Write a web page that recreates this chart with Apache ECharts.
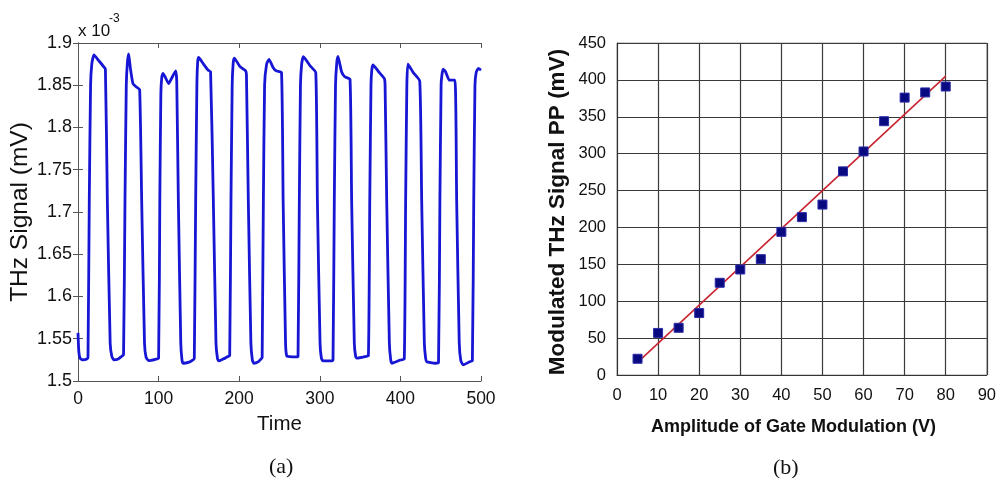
<!DOCTYPE html>
<html><head><meta charset="utf-8">
<script src="https://cdn.jsdelivr.net/npm/echarts@6/dist/echarts.min.js"></script>
<style>html,body{margin:0;padding:0;background:#fff}#c{width:999px;height:478px}</style>
</head><body><div id="c"></div>
<script>
// (a) THz signal trace: [time, signal in units of 1e-3 mV]
const timeSignal = [
 [0,1.557],[1,1.535],[2.5,1.527],[6,1.525],[11,1.526],[12.4,1.528],
 [14,1.714],[15.6,1.85],[17.2,1.876],[19.8,1.886],[25,1.880],[31,1.873],[34,1.869],
 [36.4,1.714],[39.9,1.545],[42,1.529],[44.5,1.525],[50,1.526],[54,1.529],[56.5,1.531],
 [58.3,1.714],[59.9,1.85],[61.3,1.877],[62.9,1.887],[65,1.870],[68.2,1.852],[72.4,1.848],[76.5,1.845],
 [79,1.714],[82.5,1.545],[84.5,1.528],[87.7,1.524],[96,1.5257],[100,1.527],
 [101.5,1.714],[102.8,1.84],[104,1.860],[105.5,1.864],[108,1.860],[112.5,1.852],[116,1.858],[121.2,1.867],[122.5,1.855],
 [124.5,1.714],[127.5,1.545],[129,1.525],[130.3,1.521],[137,1.522],[142.7,1.525],[144.3,1.527],
 [146,1.714],[147.5,1.85],[148.5,1.878],[149.7,1.883],[155,1.876],[161.3,1.868],[164.5,1.866],
 [167.9,1.714],[171.2,1.545],[173,1.527],[174.5,1.5237],[180,1.526],[186,1.529],[188.2,1.530],
 [189.8,1.714],[191.3,1.85],[192.5,1.876],[194,1.882],[201,1.872],[208,1.867],[209,1.862],
 [211.3,1.714],[214.5,1.545],[216.3,1.525],[218,1.521],[224,1.523],[228,1.527],[228.5,1.528],
 [230,1.714],[231.5,1.85],[234,1.875],[237,1.8807],[242,1.871],[246,1.867],[252.5,1.865],
 [254.5,1.714],[257.5,1.545],[259,1.5295],[262,1.5288],[271,1.5285],[273,1.529],
 [274.6,1.714],[276,1.85],[277.5,1.875],[279.6,1.8838],[288,1.873],[295,1.865],
 [297,1.714],[300.3,1.545],[302,1.527],[304,1.5237],[314.6,1.5237],[316.4,1.525],
 [318,1.714],[319.5,1.85],[321,1.876],[322.6,1.884],[327,1.866],[331,1.860],[337.5,1.857],
 [339.5,1.714],[342.8,1.545],[344.5,1.529],[346,1.527],[356,1.5288],[360.3,1.530],
 [362,1.714],[363.5,1.85],[364.5,1.868],[366,1.874],[373,1.866],[380,1.858],[381,1.85],
 [383,1.714],[386.3,1.545],[388,1.525],[389.5,1.521],[400,1.5249],[404.8,1.526],
 [406.5,1.714],[408,1.85],[409.3,1.875],[416,1.865],[424,1.855],
 [426.4,1.714],[429.7,1.545],[431.3,1.527],[432.6,1.5228],[443,1.521],[447.3,1.522],
 [449,1.714],[450.5,1.85],[451.5,1.862],[453,1.869],[456,1.866],[460.7,1.856],[467.7,1.856],
 [469.8,1.714],[473,1.545],[475,1.524],[478,1.519],[486,1.5228],[489.3,1.524],
 [491,1.714],[492.5,1.85],[494,1.865],[496.7,1.870],[500,1.868]
];
// (b) modulated THz signal vs gate modulation amplitude
const gateAmplitude = [5,10,15,20,25,30,35,40,45,50,55,60,65,70,75,80];
const modulatedPP  = [22,57,64,84,125,143,157,194,214,231,276,303,344,376,383,391];
const fitX = [5,80];
const fitY = [17,405];
// axis ranges / tick steps
const aX = {min:0, max:500, step:100};
const aY = {min:1.5, max:1.9, step:0.05};
const bX = {min:0, max:90, step:10};
const bY = {min:0, max:450, step:50};

const SANS = "'Liberation Sans',Arial,sans-serif";
const frame = '#555';
const chart = echarts.init(document.getElementById('c'), null, {renderer:'canvas'});

const frameAxis = (extra) => Object.assign({
  gridIndex:0, type:'value',
  axisLine:{show:true, lineStyle:{color:frame, width:1}},
  axisTick:{show:true, inside:true, length:5, lineStyle:{color:frame}},
  splitLine:{show:false}
}, extra);

chart.setOption({
  animation:false,
  backgroundColor:'#fff',
  grid:[
    {left:78, top:43, width:403, height:338},
    {left:617, top:43, width:375, height:332, show:true, borderColor:'#a0a0a0', borderWidth:1, backgroundColor:'#fff'}
  ],
  xAxis:[
    frameAxis({position:'bottom', min:aX.min, max:aX.max, interval:aX.step,
      axisLabel:{margin:9, fontFamily:SANS, fontSize:17.5, color:'#111'},
      name:'Time', nameLocation:'middle', nameGap:33,
      nameTextStyle:{fontFamily:SANS, fontSize:20.5, color:'#111'}}),
    frameAxis({position:'top', min:aX.min, max:aX.max, interval:aX.step, axisLabel:{show:false}}),
    {gridIndex:1, type:'value', min:bX.min, max:bX.max, interval:bX.step,
      axisLine:{show:true, lineStyle:{color:'#333', width:1}},
      axisTick:{show:false},
      splitLine:{show:true, lineStyle:{color:'#3a3a3a', width:1.2}},
      axisLabel:{margin:12, fontFamily:SANS, fontSize:16.5, color:'#111'},
      name:'Amplitude of Gate Modulation (V)', nameLocation:'middle', nameGap:43,
      nameTextStyle:{fontFamily:SANS, fontWeight:'bold', fontSize:18, color:'#111', padding:[0,17,0,0]}}
  ],
  yAxis:[
    frameAxis({position:'left', min:aY.min, max:aY.max, interval:aY.step,
      axisLabel:{margin:6, fontFamily:SANS, fontSize:18, color:'#111'},
      name:'THz Signal (mV)', nameLocation:'middle', nameGap:33,
      nameTextStyle:{fontFamily:SANS, fontSize:24.5, color:'#111'}}),
    frameAxis({position:'right', min:aY.min, max:aY.max, interval:aY.step, axisLabel:{show:false}}),
    {gridIndex:1, type:'value', min:bY.min, max:bY.max, interval:bY.step,
      axisLine:{show:true, lineStyle:{color:'#333', width:1}},
      axisTick:{show:false},
      splitLine:{show:true, lineStyle:{color:'#3a3a3a', width:1.2}},
      axisLabel:{margin:11, fontFamily:SANS, fontSize:16.5, color:'#111'},
      name:'Modulated THz Signal PP (mV)', nameLocation:'middle', nameGap:48,
      nameTextStyle:{fontFamily:SANS, fontWeight:'bold', fontSize:22.5, color:'#111', padding:[0,6,0,0]}}
  ],
  series:[
    {type:'line', xAxisIndex:0, yAxisIndex:0, data:timeSignal, showSymbol:false, smooth:0.15,
      lineStyle:{color:'#1616d4', width:2.8}, clip:true},
    {type:'line', xAxisIndex:2, yAxisIndex:2, data:fitX.map((x,i)=>[x,fitY[i]]), showSymbol:false,
      lineStyle:{color:'#c82430', width:1.6}, z:3},
    {type:'scatter', xAxisIndex:2, yAxisIndex:2, data:gateAmplitude.map((x,i)=>[x,modulatedPP[i]]),
      symbol:'rect', symbolSize:9, itemStyle:{color:'#0a0a80', borderColor:'#2c2ca8', borderWidth:1, opacity:1}, z:4}
  ],
  graphic:[
    {type:'text', left:78, top:23, style:{text:'x 10', font:"17px "+SANS, fill:'#111'}},
    {type:'text', left:109, top:13, style:{text:'-3', font:"12px "+SANS, fill:'#111'}},
    {type:'text', left:269, top:456, style:{text:'(a)', font:"22px 'Liberation Serif','Times New Roman',serif", fill:'#111'}},
    {type:'text', left:773, top:457, style:{text:'(b)', font:"22px 'Liberation Serif','Times New Roman',serif", fill:'#111'}}
  ]
});
</script></body></html>
